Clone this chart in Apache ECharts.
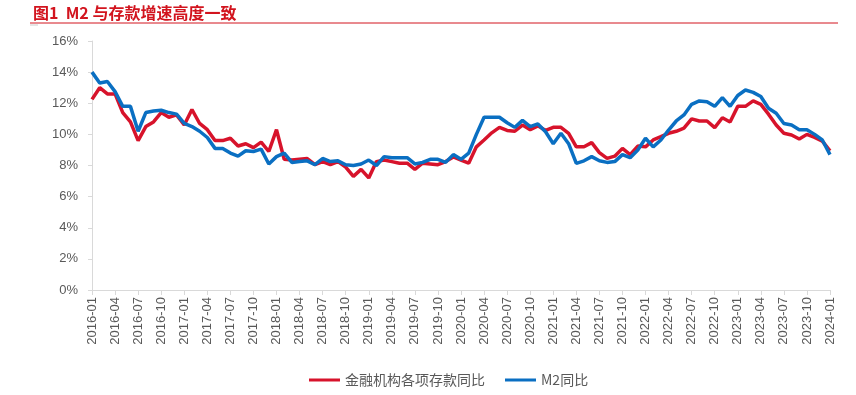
<!DOCTYPE html>
<html>
<head>
<meta charset="utf-8">
<script src="https://cdn.jsdelivr.net/npm/echarts@6/dist/echarts.min.js"></script>
<style>
html,body{margin:0;padding:0;background:#fff;}
#c{width:856px;height:395px;}
</style>
</head>
<body>
<div id="c"></div>
<script>
const startYear = 2016;
const endYear = 2024;
const categories = [];
for (let y = startYear; y <= endYear; y++) {
  for (let m = 1; m <= 12; m++) {
    if (y === endYear && m > 1) break;
    categories.push(y + '-' + (m < 10 ? '0' + m : '' + m));
  }
}
const depositYoY = [
  12.25, 13.0, 12.6, 12.6, 11.4, 10.8, 9.6, 10.5, 10.8, 11.4, 11.1, 11.25,
  10.6, 11.6, 10.7, 10.3, 9.6, 9.6, 9.75, 9.25, 9.4, 9.15, 9.5, 8.9,
  10.3, 8.4, 8.35, 8.4, 8.45, 8.05, 8.25, 8.05, 8.25, 7.9, 7.3, 7.75,
  7.2, 8.25, 8.35, 8.25, 8.15, 8.15, 7.75, 8.15, 8.1, 8.05, 8.25, 8.55,
  8.35, 8.15, 9.2, 9.64, 10.1, 10.45, 10.25, 10.2, 10.6, 10.3, 10.55, 10.25,
  10.45, 10.45, 10.07, 9.2, 9.2, 9.47, 8.83, 8.46, 8.6, 9.1, 8.7, 9.25,
  9.2, 9.64, 9.85, 10.07, 10.2, 10.4, 11.0, 10.86, 10.86, 10.43, 11.07, 10.8,
  11.8, 11.8, 12.15, 11.93, 11.3, 10.6, 10.07, 9.96, 9.7, 10.0, 9.8, 9.57,
  8.95
];
const m2YoY = [
  14.0, 13.3, 13.4, 12.75, 11.8, 11.8, 10.2, 11.4, 11.5, 11.55, 11.4, 11.3,
  10.7, 10.5, 10.2, 9.8, 9.1, 9.1, 8.8, 8.6, 8.95, 8.9, 9.05, 8.1,
  8.57, 8.8, 8.2, 8.25, 8.3, 8.05, 8.45, 8.25, 8.3, 8.05, 8.0, 8.1,
  8.35, 8.0, 8.57, 8.5, 8.5, 8.5, 8.1, 8.2, 8.4, 8.4, 8.2, 8.7,
  8.4, 8.8, 10.0, 11.1, 11.1, 11.1, 10.75, 10.45, 10.9, 10.5, 10.67, 10.17,
  9.4, 10.07, 9.4, 8.14, 8.3, 8.57, 8.3, 8.2, 8.25, 8.7, 8.5, 9.0,
  9.75, 9.2, 9.64, 10.28, 10.86, 11.25, 11.93, 12.15, 12.1, 11.8, 12.36, 11.8,
  12.5, 12.85, 12.7, 12.43, 11.68, 11.36, 10.7, 10.6, 10.3, 10.3, 10.0, 9.64,
  8.7
];
const seriesNames = ['金融机构各项存款同比', 'M2同比'];
const titleText = '图1  M2 与存款增速高度一致';

const RED = '#d7132b';
const BLUE = '#0a6fc2';
const chart = echarts.init(document.getElementById('c'));
chart.setOption({
  animation: false,
  backgroundColor: '#fff',
  title: {
    text: titleText,
    left: 28, top: 0,
    textStyle: { color: '#d2141e', fontSize: 16, fontWeight: 'bold', fontFamily: '"Noto Sans CJK SC", "Liberation Sans", sans-serif' }
  },
  graphic: [
    { type: 'line', shape: { x1: 30, y1: 23, x2: 838, y2: 23 }, style: { stroke: '#d2141e', lineWidth: 1 } },
    { type: 'line', shape: { x1: 30, y1: 25, x2: 38, y2: 25 }, style: { stroke: '#cccccc', lineWidth: 1 } }
  ],
  legend: {
    data: seriesNames,
    left: 304, top: 368,
    icon: 'rect',
    itemWidth: 31, itemHeight: 3,
    itemGap: 20,
    textStyle: { color: '#595959', fontSize: 14, fontFamily: '"Noto Sans CJK SC", "Liberation Sans", sans-serif' }
  },
  grid: { left: 92, right: 26, top: 41, bottom: 105, containLabel: false },
  xAxis: {
    type: 'category',
    data: categories,
    boundaryGap: false,
    axisLine: { lineStyle: { color: '#d9d9d9', width: 1 } },
    axisTick: { show: true, interval: 2, length: 5, lineStyle: { color: '#d9d9d9' } },
    axisLabel: { interval: 2, rotate: 90, color: '#595959', fontSize: 13, margin: 7, fontFamily: '"Liberation Sans", Arial, sans-serif' }
  },
  yAxis: {
    type: 'value',
    min: 0, max: 16, interval: 2,
    axisLine: { show: true, lineStyle: { color: '#d9d9d9', width: 1 } },
    axisTick: { show: true, length: 4, lineStyle: { color: '#d9d9d9' } },
    splitLine: { show: false },
    axisLabel: { formatter: '{value}%', color: '#595959', fontSize: 13, margin: 14, fontFamily: '"Liberation Sans", Arial, sans-serif' }
  },
  series: [
    { name: seriesNames[0], type: 'line', data: depositYoY, showSymbol: false, symbol: 'none',
      lineStyle: { color: RED, width: 3.5 }, itemStyle: { color: RED } },
    { name: seriesNames[1], type: 'line', data: m2YoY, showSymbol: false, symbol: 'none',
      lineStyle: { color: BLUE, width: 3.5 }, itemStyle: { color: BLUE } }
  ]
});
</script>
</body>
</html>
